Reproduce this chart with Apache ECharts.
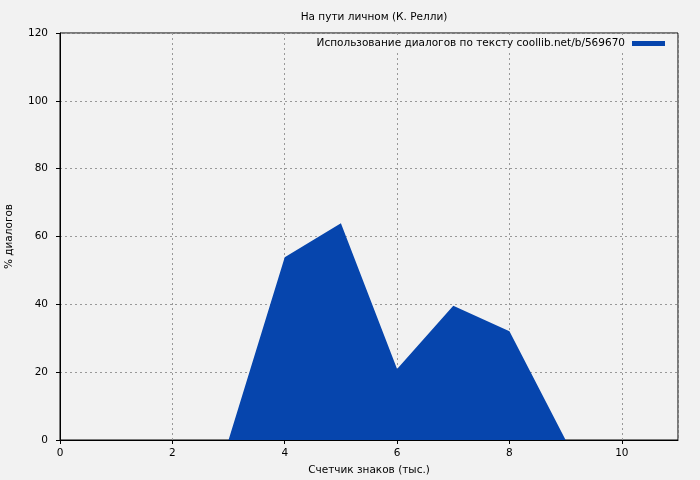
<!DOCTYPE html>
<html>
<head>
<meta charset="utf-8">
<script src="https://cdn.jsdelivr.net/npm/echarts@6/dist/echarts.min.js"></script>
<style>
  html, body { margin: 0; padding: 0; background: #f2f2f2; }
  #chart { width: 700px; height: 480px; }
</style>
</head>
<body>
<div id="chart"></div>
<script>
// счетчик знаков (тыс.) и % диалогов
var charsK = [3, 4, 5, 6, 7, 8, 9]
var dialogPct = [0, 53.9, 63.9, 20.9, 39.6, 32.1, 0]
var seriesName = 'Использование диалогов по тексту coollib.net/b/569670'

var font = 'DejaVu Sans'
var fs = 10.5
var chart = echarts.init(document.getElementById('chart'), null, { renderer: 'canvas' })

chart.setOption({
  backgroundColor: '#f2f2f2',
  animation: false,
  title: {
    text: 'На пути личном (К. Релли)',
    left: 369,
    textAlign: 'center',
    top: 7,
    textStyle: { fontFamily: font, fontSize: fs, fontWeight: 'normal', color: '#000' }
  },
  legend: {
    data: [seriesName],
    right: 35,
    top: 36,
    align: 'right',
    icon: 'rect',
    itemWidth: 33,
    itemHeight: 5,
    itemGap: 0,
    padding: [2, 0, 4, 4],
    backgroundColor: '#f2f2f2',
    textStyle: { fontFamily: font, fontSize: fs, color: '#000', padding: [0, 2, 0, 0] }
  },
  grid: {
    left: 60,
    right: 22,
    top: 33,
    bottom: 40,
    outerBoundsMode: 'none',
    containLabel: false,
    show: true,
    borderColor: '#000',
    borderWidth: 1,
    backgroundColor: 'transparent'
  },
  xAxis: {
    type: 'value',
    min: 0,
    max: 11,
    interval: 2,
    name: 'Счетчик знаков (тыс.)',
    nameLocation: 'middle',
    nameGap: 25,
    nameTextStyle: { fontFamily: font, fontSize: fs, color: '#000' },
    axisLine: { show: true, onZero: false, lineStyle: { color: '#000', width: 1 } },
    axisTick: { show: true, length: 4, lineStyle: { color: '#000' } },
    axisLabel: { fontFamily: font, fontSize: fs, color: '#000', margin: 8, showMaxLabel: false },
    splitLine: { show: true, lineStyle: { color: '#999', type: [2, 3], width: 1 } }
  },
  yAxis: {
    type: 'value',
    min: 0,
    max: 120,
    interval: 20,
    name: '% диалогов',
    nameLocation: 'middle',
    nameGap: 45,
    nameTextStyle: { fontFamily: font, fontSize: fs, color: '#000' },
    axisLine: { show: true, lineStyle: { color: '#000', width: 1 } },
    axisTick: { show: true, length: 4, lineStyle: { color: '#000' } },
    axisLabel: { fontFamily: font, fontSize: fs, color: '#000', margin: 12 },
    splitLine: { show: true, lineStyle: { color: '#999', type: [2, 3], width: 1 } }
  },
  series: [{
    name: seriesName,
    type: 'line',
    data: charsK.map(function(x, i) { return [x, dialogPct[i]] }),
    showSymbol: false,
    symbol: 'none',
    itemStyle: { color: '#0645ad' },
    lineStyle: { width: 0, color: '#0645ad' },
    areaStyle: { color: '#0645ad', opacity: 1 },
    z: 1
  }]
})
</script>
</body>
</html>
